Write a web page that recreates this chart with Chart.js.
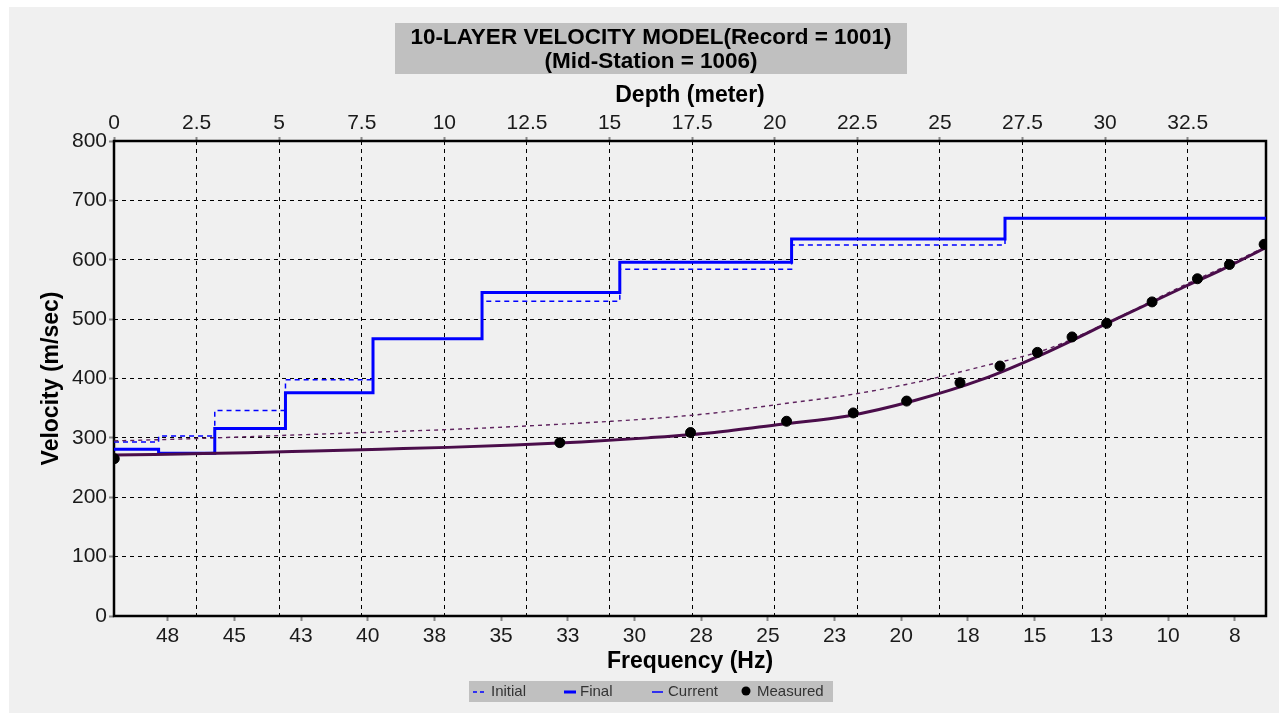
<!DOCTYPE html>
<html>
<head>
<meta charset="utf-8">
<title>10-Layer Velocity Model</title>
<script src="https://cdn.jsdelivr.net/npm/chart.js@4.4.1/dist/chart.umd.min.js"></script>
<style>
    html, body { margin: 0; padding: 0; background: #ffffff; }
    #wrap { width: 1279px; height: 713px; }
</style>
</head>
<body>
<div id="wrap"><canvas id="velocityChart" width="1279" height="713"></canvas></div>
<script>
// chart title lines
var titleLines = ['10-LAYER VELOCITY MODEL(Record = 1001)', '(Mid-Station = 1006)'];

// layer model: depth of each layer top (meter) and shear velocity (m/sec)
var layerTops = [0, 1.35, 3.05, 5.19, 7.84, 11.14, 15.31, 20.51, 26.97];
var initialVelocity = [293, 303, 346, 398, 467, 530, 584, 625, 670];
var finalVelocity = [281, 274, 316, 376, 467, 545, 596, 635, 670];
var currentVelocity = [281, 274, 316, 376, 467, 545, 596, 635, 670];
var maxDepth = 34.87;

// dispersion curves: frequency (Hz) and phase velocity (m/sec)
var curveFreq = [49.5, 47, 44.5, 42, 39.5, 37, 34.5, 32, 29.5, 27, 24.5, 22, 19.5, 17, 14.5, 12, 9.5, 8, 6.35];
var initialCurve = [295, 298, 302, 306, 310, 314, 319, 325, 332, 342, 357, 372, 393, 420, 450, 500, 555, 586, 622];
var finalCurve = [271, 273, 275, 278, 281, 284, 288, 293, 300, 309, 323, 337, 363, 398, 445, 499, 552, 583, 620];

// measured dispersion points
var measuredFreq = [49.5, 32.8, 27.9, 24.3, 21.8, 19.8, 17.8, 16.3, 14.9, 13.6, 12.3, 10.6, 8.9, 7.7, 6.4];
var measuredVelocity = [265, 292, 309, 328, 342, 362, 393, 421, 444, 470, 493, 529, 568, 592, 626];

var minFreq = 6.33;
var maxFreq = 49.51;

var fontFamily = '"Liberation Sans", Arial, sans-serif';
Chart.defaults.font.family = fontFamily;

function pairs(xs, ys) {
    return xs.map(function(x, i) { return { x: x, y: ys[i] }; });
}

// step profile, last layer runs to the edge of the plot
function steps(tops, vel) {
    var pts = pairs(tops, vel);
    pts.push({ x: maxDepth, y: vel[vel.length - 1] });
    return pts;
}

var decorations = {
    id: 'decorations',
    beforeDraw: function(chart) {
        var c = chart.ctx;
        c.save();
        c.fillStyle = '#ffffff';
        c.fillRect(0, 0, chart.width, chart.height);
        c.fillStyle = '#f0f0f0';
        c.fillRect(9, 7, chart.width - 9, chart.height - 7);

        // title box
        c.fillStyle = '#c0c0c0';
        c.fillRect(395, 23, 512, 51);
        c.fillStyle = '#000000';
        c.font = 'bold 22.5px ' + fontFamily;
        c.textAlign = 'center';
        c.textBaseline = 'middle';
        c.fillText(titleLines[0], 651, 38);
        c.fillText(titleLines[1], 651, 62);
        c.restore();
    },
    beforeDatasetsDraw: function(chart) {
        var a = chart.chartArea;
        var c = chart.ctx;
        c.save();
        c.strokeStyle = '#000000';
        c.lineWidth = 2.5;
        c.strokeRect(a.left, a.top, a.right - a.left, a.bottom - a.top);
        c.restore();
    },
    afterDraw: function(chart) {
        var c = chart.ctx;
        c.save();
        c.fillStyle = '#c0c0c0';
        c.fillRect(469, 681, 364, 21);
        c.font = '15px ' + fontFamily;
        c.textBaseline = 'middle';
        c.textAlign = 'left';
        var y = 692;

        // Initial: dashed
        c.strokeStyle = '#0000ff';
        c.lineWidth = 1.5;
        c.setLineDash([4, 3]);
        c.beginPath(); c.moveTo(473, y); c.lineTo(486, y); c.stroke();
        c.setLineDash([]);
        // Final: thick
        c.lineWidth = 3;
        c.beginPath(); c.moveTo(564, y); c.lineTo(576, y); c.stroke();
        // Current: thin
        c.lineWidth = 1.5;
        c.beginPath(); c.moveTo(652, y); c.lineTo(663, y); c.stroke();
        // Measured: dot
        c.fillStyle = '#000000';
        c.beginPath(); c.arc(746, y - 1, 4.5, 0, Math.PI * 2); c.fill();

        c.fillStyle = '#333333';
        c.fillText('Initial', 491, y);
        c.fillText('Final', 580, y);
        c.fillText('Current', 668, y);
        c.fillText('Measured', 757, y);
        c.restore();
    }
};

var tickFont = { size: 21, family: fontFamily };
var titleFont = { size: 23, weight: 'bold', family: fontFamily };

var ctx = document.getElementById('velocityChart').getContext('2d');
var velocityChart = new Chart(ctx, {
    type: 'line',
    data: {
        datasets: [{
            label: 'Measured',
            data: pairs(measuredFreq, measuredVelocity),
            xAxisID: 'freq',
            yAxisID: 'y',
            showLine: false,
            pointRadius: 5,
            pointBackgroundColor: '#000000',
            pointBorderColor: '#000000',
            borderColor: '#000000'
        }, {
            label: 'Final curve',
            data: pairs(curveFreq, finalCurve),
            xAxisID: 'freq',
            yAxisID: 'y',
            borderColor: '#4a0d4a',
            borderWidth: 3,
            pointRadius: 0,
            cubicInterpolationMode: 'monotone'
        }, {
            label: 'Initial curve',
            data: pairs(curveFreq, initialCurve),
            xAxisID: 'freq',
            yAxisID: 'y',
            borderColor: '#5e235e',
            borderWidth: 1.4,
            borderDash: [4, 4],
            pointRadius: 0,
            cubicInterpolationMode: 'monotone'
        }, {
            label: 'Final',
            data: steps(layerTops, finalVelocity),
            xAxisID: 'depth',
            yAxisID: 'y',
            stepped: 'before',
            borderColor: '#0000ff',
            borderWidth: 3,
            pointRadius: 0
        }, {
            label: 'Current',
            data: steps(layerTops, currentVelocity),
            xAxisID: 'depth',
            yAxisID: 'y',
            stepped: 'before',
            borderColor: '#0000ff',
            borderWidth: 1,
            pointRadius: 0
        }, {
            label: 'Initial',
            data: steps(layerTops, initialVelocity),
            xAxisID: 'depth',
            yAxisID: 'y',
            stepped: 'before',
            borderColor: '#0000ff',
            borderWidth: 1.5,
            borderDash: [5, 4],
            pointRadius: 0
        }]
    },
    options: {
        responsive: false,
        animation: false,
        devicePixelRatio: 1,
        layout: { padding: { top: 0, right: 13, bottom: 0, left: 0 } },
        plugins: {
            legend: { display: false },
            title: { display: false },
            tooltip: { enabled: false }
        },
        scales: {
            depth: {
                type: 'linear',
                position: 'top',
                min: 0,
                max: maxDepth,
                ticks: {
                    stepSize: 2.5,
                    includeBounds: false,
                    autoSkip: false,
                    maxRotation: 0,
                    padding: 1,
                    color: '#1a1a1a',
                    font: tickFont
                },
                grid: {
                    color: '#000000',
                    lineWidth: 1,
                    tickColor: '#888888',
                    tickLength: 4,
                    tickWidth: 2
                },
                border: { display: false, dash: [4, 4] },
                title: {
                    display: true,
                    text: 'Depth (meter)',
                    color: '#000000',
                    font: titleFont,
                    padding: { top: 82, bottom: 0 }
                },
                afterFit: function(scale) { scale.height = 141; }
            },
            freq: {
                type: 'linear',
                position: 'bottom',
                reverse: true,
                min: minFreq,
                max: maxFreq,
                ticks: {
                    stepSize: 2.5,
                    includeBounds: false,
                    autoSkip: false,
                    maxRotation: 0,
                    padding: 3,
                    color: '#1a1a1a',
                    font: tickFont,
                    callback: function(value) { return Math.round(value); }
                },
                grid: {
                    drawOnChartArea: false,
                    tickColor: '#888888',
                    tickLength: 5,
                    tickWidth: 2
                },
                border: { display: false },
                title: {
                    display: true,
                    text: 'Frequency (Hz)',
                    color: '#000000',
                    font: titleFont,
                    padding: { top: 0, bottom: 38 }
                },
                afterFit: function(scale) { scale.height = 97; }
            },
            y: {
                type: 'linear',
                position: 'left',
                min: 0,
                max: 800,
                ticks: {
                    stepSize: 100,
                    padding: 2,
                    color: '#1a1a1a',
                    font: tickFont
                },
                grid: {
                    color: '#000000',
                    lineWidth: 1,
                    tickColor: '#888888',
                    tickLength: 5,
                    tickWidth: 2
                },
                border: { display: false, dash: [4, 4] },
                title: {
                    display: true,
                    text: 'Velocity (m/sec)',
                    color: '#000000',
                    font: titleFont,
                    padding: { top: 38, bottom: 0 }
                },
                afterFit: function(scale) { scale.width = 114; }
            }
        }
    },
    plugins: [decorations]
});
</script>
</body>
</html>
